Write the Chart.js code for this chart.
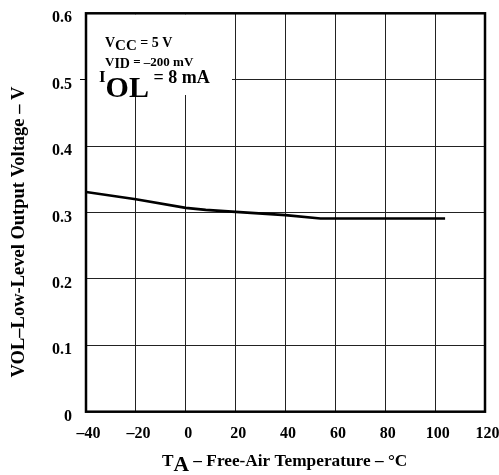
<!DOCTYPE html>
<html>
<head>
<meta charset="utf-8">
<script src="https://cdn.jsdelivr.net/npm/chart.js@4.4.1/dist/chart.umd.min.js"></script>
<style>
  html, body { margin: 0; padding: 0; background: #fff; }
  #wrap { width: 499px; height: 475px; position: relative; }
</style>
</head>
<body>
<div id="wrap"><canvas id="c" width="499" height="475"></canvas></div>
<script>
// Data
const temperatures = [-40, -20, 0, 8, 20, 40, 54, 104];
const volOutput = [0.331, 0.320, 0.307, 0.304, 0.301, 0.296, 0.291, 0.291];
const xTicks = [-40, -20, 0, 20, 40, 60, 80, 100, 120];
const yTicks = [0, 0.1, 0.2, 0.3, 0.4, 0.5, 0.6];
const yTitle = 'VOL–Low-Level Output Voltage – V';
const xTitleMain = 'T';
const xTitleSub = 'A';
const xTitleRest = ' – Free-Air Temperature – °C';
const condVcc = ['V', 'CC', ' = 5 V'];
const condVid = ['V', 'ID', ' = –200 mV'];
const condIol = ['I', 'OL', ' = 8 mA'];

const SERIF = '"Liberation Serif", "Times New Roman", serif';

function runs(ctx, x, parts) {
  let cx = x;
  parts.forEach(p => {
    ctx.font = 'bold ' + p[1] + 'px ' + SERIF;
    ctx.fillText(p[0], cx, p[2]);
    cx += ctx.measureText(p[0]).width;
  });
}

const decor = {
  id: 'decor',
  beforeDatasetsDraw(chart) {
    const ctx = chart.ctx, a = chart.chartArea;
    ctx.save();
    ctx.fillStyle = '#fff';
    ctx.fillRect(a.left + 1, a.top + 1, 231 - a.left, 94 - a.top);
    ctx.fillStyle = '#000';
    ctx.textBaseline = 'alphabetic';
    ctx.textAlign = 'left';
    runs(ctx, 105, [[condVcc[0], 14, 47], [condVcc[1], 15, 50], [condVcc[2], 14, 47]]);
    runs(ctx, 105, [[condVid[0], 13, 66], [condVid[1], 14, 68], [condVid[2], 13, 66]]);
    runs(ctx, 99, [[condIol[0], 17, 82], [condIol[1], 30, 97], [condIol[2], 18, 83]]);
    ctx.restore();
  },
  afterDraw(chart) {
    const ctx = chart.ctx, a = chart.chartArea;
    ctx.save();
    ctx.strokeStyle = '#000';
    ctx.lineWidth = 2.5;
    ctx.strokeRect(a.left, a.top, a.right - a.left, a.bottom - a.top);
    ctx.fillStyle = '#000';
    ctx.save();
    ctx.translate(19, 232);
    ctx.rotate(-Math.PI / 2);
    ctx.font = 'bold 18.5px ' + SERIF;
    ctx.textAlign = 'center';
    ctx.textBaseline = 'middle';
    ctx.fillText(yTitle, 0, 0);
    ctx.restore();
    ctx.textAlign = 'left';
    ctx.textBaseline = 'alphabetic';
    runs(ctx, 162, [[xTitleMain, 17.3, 466], [xTitleSub, 21.5, 471], [xTitleRest, 17.3, 466]]);
    ctx.restore();
  }
};

function noPad(s) { s.paddingLeft = 0; s.paddingRight = 0; s.paddingTop = 0; s.paddingBottom = 0; }

new Chart(document.getElementById('c'), {
  type: 'line',
  data: {
    datasets: [{
      data: temperatures.map((t, i) => ({ x: t, y: volOutput[i] })),
      borderColor: '#000',
      borderWidth: 2.6,
      pointRadius: 0,
      tension: 0,
      fill: false
    }]
  },
  options: {
    responsive: false,
    animation: false,
    devicePixelRatio: 1,
    layout: { padding: { left: 0, right: 14, top: 13.3, bottom: 0 } },
    plugins: { legend: { display: false }, tooltip: { enabled: false }, title: { display: false } },
    scales: {
      x: {
        type: 'linear',
        min: -40, max: 120,
        afterBuildTicks: s => { s.ticks = xTicks.map(v => ({ value: v })); },
        afterFit: s => { s.height = 63.3; noPad(s); },
        border: { display: false },
        grid: { color: '#222', lineWidth: 1, drawTicks: false },
        ticks: {
          color: '#000',
          font: { family: SERIF, size: 16, weight: 'bold' },
          padding: 13,
          labelOffset: 2.5,
          maxRotation: 0,
          callback: v => (v < 0 ? '–' + Math.abs(v) : String(v))
        }
      },
      y: {
        min: 0, max: 0.6,
        afterBuildTicks: s => { s.ticks = yTicks.map(v => ({ value: v })); },
        afterFit: s => { s.width = 86; noPad(s); },
        border: { display: false },
        grid: {
          color: '#222', lineWidth: 1, tickLength: 6,
          tickColor: c => (c.tick && Math.abs(c.tick.value - 0.5) < 1e-9 ? '#000' : 'rgba(0,0,0,0)')
        },
        ticks: {
          color: '#000',
          font: { family: SERIF, size: 16, weight: 'bold' },
          padding: 8,
          labelOffset: 5,
          callback: v => (v === 0 ? '0' : v.toFixed(1))
        }
      }
    }
  },
  plugins: [decor]
});
</script>
</body>
</html>
